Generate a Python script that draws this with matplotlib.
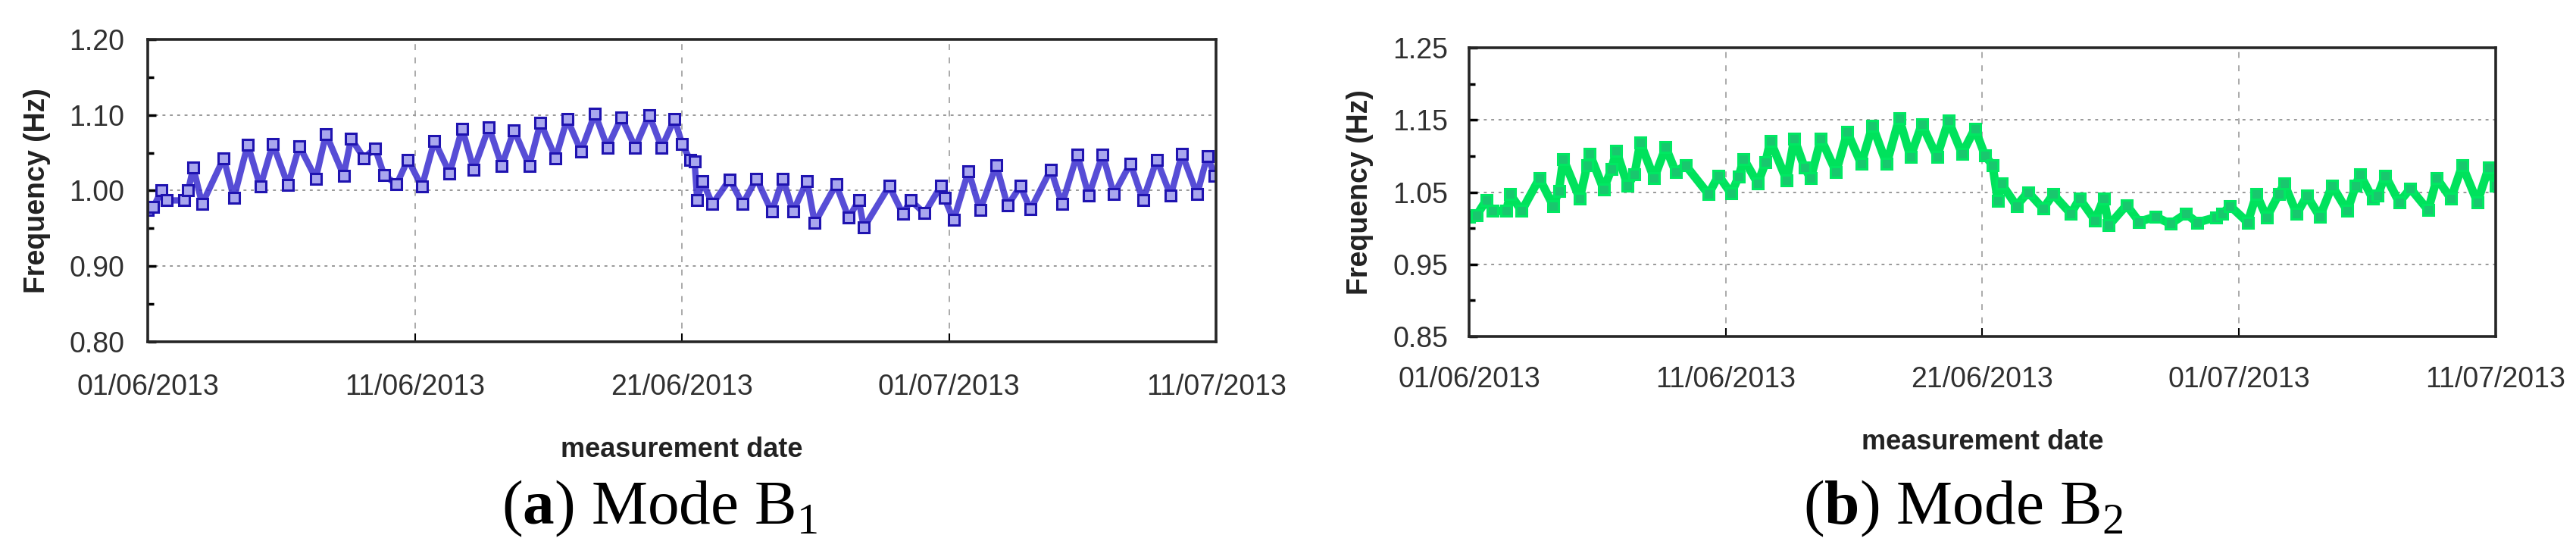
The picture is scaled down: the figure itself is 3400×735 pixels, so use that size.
import matplotlib
matplotlib.use("Agg")
import matplotlib.pyplot as plt
import matplotlib.dates as mdates
from matplotlib.ticker import FormatStrFormatter
import pandas as pd

# days since 01/06/2013 and frequency (Hz)
days_b1 = [0.0, 0.2, 0.52, 0.71, 1.37, 1.51, 1.70, 2.03, 2.84, 3.22, 3.74, 4.21,
           4.68, 5.25, 5.67, 6.29, 6.67, 7.33, 7.61, 8.09, 8.51, 8.84, 9.31,
           9.74, 10.26, 10.73, 11.30, 11.77, 12.20, 12.77, 13.25, 13.71, 14.28,
           14.70, 15.27, 15.70, 16.22, 16.74, 17.21, 17.73, 18.25, 18.77, 19.24,
           19.72, 20.00, 20.30, 20.47, 20.57, 20.76, 21.14, 21.79, 22.27, 22.79,
           23.36, 23.78, 24.16, 24.68, 24.97, 25.77, 26.24, 26.62, 26.81, 27.76,
           28.27, 28.56, 29.08, 29.69, 29.83, 30.17, 30.73, 31.16, 31.77, 32.19,
           32.67, 33.05, 33.81, 34.23, 34.80, 35.23, 35.75, 36.17, 36.79, 37.26,
           37.78, 38.30, 38.72, 39.29, 39.67, 39.95]
freq_b1 = [0.974, 0.978, 1.000, 0.987, 0.987, 1.000, 1.031, 0.982, 1.043, 0.990,
           1.061, 1.005, 1.062, 1.007, 1.059, 1.016, 1.075, 1.020, 1.069, 1.043,
           1.056, 1.021, 1.008, 1.041, 1.005, 1.066, 1.023, 1.082, 1.028, 1.084,
           1.033, 1.080, 1.033, 1.090, 1.043, 1.095, 1.052, 1.102, 1.057, 1.097,
           1.057, 1.100, 1.057, 1.095, 1.062, 1.041, 1.039, 0.987, 1.013, 0.982,
           1.015, 0.982, 1.016, 0.972, 1.016, 0.972, 1.013, 0.957, 1.008, 0.964,
           0.987, 0.951, 1.006, 0.969, 0.987, 0.970, 1.006, 0.990, 0.961, 1.026,
           0.974, 1.034, 0.980, 1.006, 0.975, 1.028, 0.982, 1.048, 0.993, 1.048,
           0.995, 1.036, 0.987, 1.041, 0.993, 1.049, 0.995, 1.046, 1.020]

days_b2 = [0.0, 0.3, 0.67, 0.9, 1.45, 1.6, 2.05, 2.74, 3.28, 3.50, 3.67, 4.31,
           4.60, 4.70, 5.24, 5.55, 5.74, 6.18, 6.45, 6.67, 7.21, 7.66, 8.05,
           8.44, 9.33, 9.72, 10.21, 10.50, 10.70, 11.25, 11.55, 11.74, 12.38,
           12.67, 13.07, 13.31, 13.71, 14.30, 14.74, 15.28, 15.72, 16.27, 16.76,
           17.20, 17.64, 18.23, 18.68, 19.21, 19.71, 20.10, 20.40, 20.60, 20.74,
           21.33, 21.78, 22.37, 22.76, 23.45, 23.79, 24.39, 24.73, 24.93, 25.62,
           26.11, 26.75, 27.33, 27.93, 28.37, 29.10, 29.35, 29.65, 30.34, 30.68,
           31.08, 31.55, 31.76, 32.25, 32.65, 33.15, 33.63, 34.22, 34.55, 34.71,
           35.21, 35.40, 35.70, 36.24, 36.68, 37.37, 37.71, 38.26, 38.70, 39.29,
           39.73, 40.0]
freq_b2 = [1.016, 1.018, 1.039, 1.024, 1.024, 1.047, 1.024, 1.069, 1.031, 1.052,
           1.096, 1.041, 1.087, 1.103, 1.054, 1.082, 1.107, 1.059, 1.075, 1.119,
           1.069, 1.112, 1.078, 1.087, 1.047, 1.073, 1.048, 1.071, 1.096, 1.062,
           1.091, 1.121, 1.066, 1.124, 1.084, 1.069, 1.124, 1.078, 1.133, 1.089,
           1.142, 1.089, 1.152, 1.099, 1.144, 1.099, 1.149, 1.103, 1.138, 1.101,
           1.087, 1.038, 1.062, 1.031, 1.050, 1.027, 1.047, 1.020, 1.041, 1.011,
           1.041, 1.004, 1.032, 1.009, 1.016, 1.006, 1.020, 1.008, 1.015, 1.020,
           1.031, 1.008, 1.047, 1.015, 1.047, 1.062, 1.020, 1.045, 1.016, 1.059,
           1.024, 1.059, 1.075, 1.041, 1.045, 1.073, 1.036, 1.055, 1.025, 1.069,
           1.041, 1.087, 1.036, 1.084, 1.059]

date_ticks = ["2013-06-01", "2013-06-11", "2013-06-21", "2013-07-01", "2013-07-11"]
yticks_b1 = [0.80, 0.90, 1.00, 1.10, 1.20]
yminor_b1 = [0.85, 0.95, 1.05, 1.15]
yticks_b2 = [0.85, 0.95, 1.05, 1.15, 1.25]
yminor_b2 = [0.90, 1.00, 1.10, 1.20]
start = pd.Timestamp("2013-06-01")

plt.rcParams["font.family"] = ["Liberation Sans", "DejaVu Sans"]
plt.rcParams["mathtext.fontset"] = "custom"
plt.rcParams["mathtext.rm"] = "Liberation Serif"
plt.rcParams["mathtext.bf"] = "Liberation Serif:bold"

fig = plt.figure(figsize=(34, 7.35), dpi=100)
ax1 = fig.add_axes([0.0574, 0.3864, 0.4147, 0.5429])
ax2 = fig.add_axes([0.5703, 0.3959, 0.3985, 0.5184])


def style_axis(ax, yticks, yminor, ypad, xpad):
    ticks = pd.to_datetime(date_ticks)
    ax.set_xlim(ticks[0], ticks[-1])
    ax.set_xticks(ticks)
    ax.xaxis.set_major_formatter(mdates.DateFormatter("%d/%m/%Y"))
    ax.set_ylim(yticks[0], yticks[-1])
    ax.set_yticks(yticks)
    ax.set_yticks(yminor, minor=True)
    ax.yaxis.set_major_formatter(FormatStrFormatter("%.2f"))
    ax.tick_params(axis="y", which="major", direction="in", length=8, width=2.5,
                   labelsize=27, labelcolor="#303030", pad=ypad)
    ax.tick_params(axis="y", which="minor", direction="in", length=6, width=2.5)
    ax.tick_params(axis="x", which="major", direction="in", length=8, width=1.5,
                   labelsize=27, labelcolor="#303030", pad=xpad)
    ax.grid(axis="y", which="major", linestyle=(0, (2, 3)), color="#999999", lw=1.4)
    ax.grid(axis="x", which="major", linestyle=(0, (4, 5)), color="#aaaaaa", lw=1.4)
    ax.set_axisbelow(True)
    for side in ["left", "right", "top", "bottom"]:
        ax.spines[side].set_linewidth(2.6)
        ax.spines[side].set_color("#262626")
    ax.set_xlabel("measurement date", fontsize=26, fontweight="bold", color="#222222",
                  labelpad=34)
    ax.set_ylabel("Frequency (Hz)", fontsize=27, fontweight="bold", color="#222222",
                  labelpad=18)


t1 = start + pd.to_timedelta(days_b1, unit="D")
ax1.plot(t1, freq_b1, color="#3a2ecf", lw=6, alpha=0.85, solid_joinstyle="round")
ax1.plot(t1, freq_b1, ls="none", marker="s", ms=10,
         mfc="#a9a7ee", mec="#1f13b0", mew=2.2)
style_axis(ax1, yticks_b1, yminor_b1, 22, 30)

t2 = start + pd.to_timedelta(days_b2, unit="D")
ax2.plot(t2, freq_b2, color="#00e25c", lw=8, solid_joinstyle="round")
ax2.plot(t2, freq_b2, ls="none", marker="s", ms=10,
         mfc="#19c76e", mec="#00e862", mew=2.2)
style_axis(ax2, yticks_b2, yminor_b2, 20, 28)

fig.text(0.256, 0.086, r"($\mathbf{a}$) Mode B$_{\rm 1}$", fontsize=60,
         family="Liberation Serif", ha="center", va="center")
fig.text(0.762, 0.086, r"($\mathbf{b}$) Mode B$_{\rm 2}$", fontsize=60,
         family="Liberation Serif", ha="center", va="center")

fig.savefig("out.png", dpi=100, facecolor="white")
